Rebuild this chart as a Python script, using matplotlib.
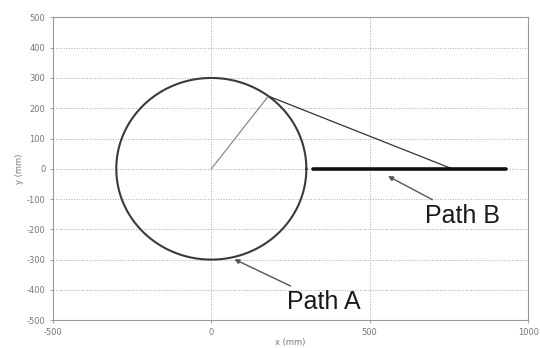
import matplotlib.pyplot as plt
import numpy as np

plt.rcParams['axes.unicode_minus'] = False

# Trayectorias (mm)
radio = 300
tangente = [180, 240]
fin_tangente = [760, 0]
path_b_x = [320, 930]
path_b_y = [0, 0]

x_ticks = [-500, 0, 500, 1000]
y_ticks = [-500, -400, -300, -200, -100, 0, 100, 200, 300, 400, 500]

fig = plt.figure(figsize=(5.4, 3.48), dpi=100)
ax = fig.add_axes([0.098, 0.08, 0.88, 0.87])

# Path A: circunferencia
t = np.linspace(0, 2 * np.pi, 400)
ax.plot(radio * np.cos(t), radio * np.sin(t), color='#3a3a3a', lw=1.5)

# Radio y recta hasta Path B
ax.plot([0, tangente[0]], [0, tangente[1]], color='#8a8a8a', lw=0.9)
ax.plot([tangente[0], fin_tangente[0]], [tangente[1], fin_tangente[1]],
        color='#333333', lw=0.9)

# Path B: recta
ax.plot(path_b_x, path_b_y, color='#111111', lw=2.6, solid_capstyle='round')

ax.set_xlim(-500, 1000)
ax.set_ylim(-500, 500)
ax.set_xticks(x_ticks)
ax.set_yticks(y_ticks)
ax.tick_params(labelsize=6, colors='#777777', length=2, width=0.5)
ax.grid(True, color='#aaaaaa', ls=':', lw=0.7)
for s in ax.spines.values():
    s.set_color('#999999')
    s.set_linewidth(0.8)

ax.set_xlabel('x (mm)', fontsize=6, color='#777777', labelpad=1)
ax.set_ylabel('y (mm)', fontsize=6, color='#777777', labelpad=2)

# Etiquetas
flecha = dict(arrowstyle='-|>', color='#555555', lw=1.0, mutation_scale=7)
ax.annotate('Path A', xy=(65, -295), xytext=(240, -440),
            fontsize=18, family='Liberation Sans', color='#1a1a1a',
            va='center', ha='left', arrowprops=flecha)
ax.annotate('Path B', xy=(550, -20), xytext=(675, -155),
            fontsize=18, family='Liberation Sans', color='#1a1a1a',
            va='center', ha='left', arrowprops=flecha)

fig.savefig('out.png', dpi=100)
